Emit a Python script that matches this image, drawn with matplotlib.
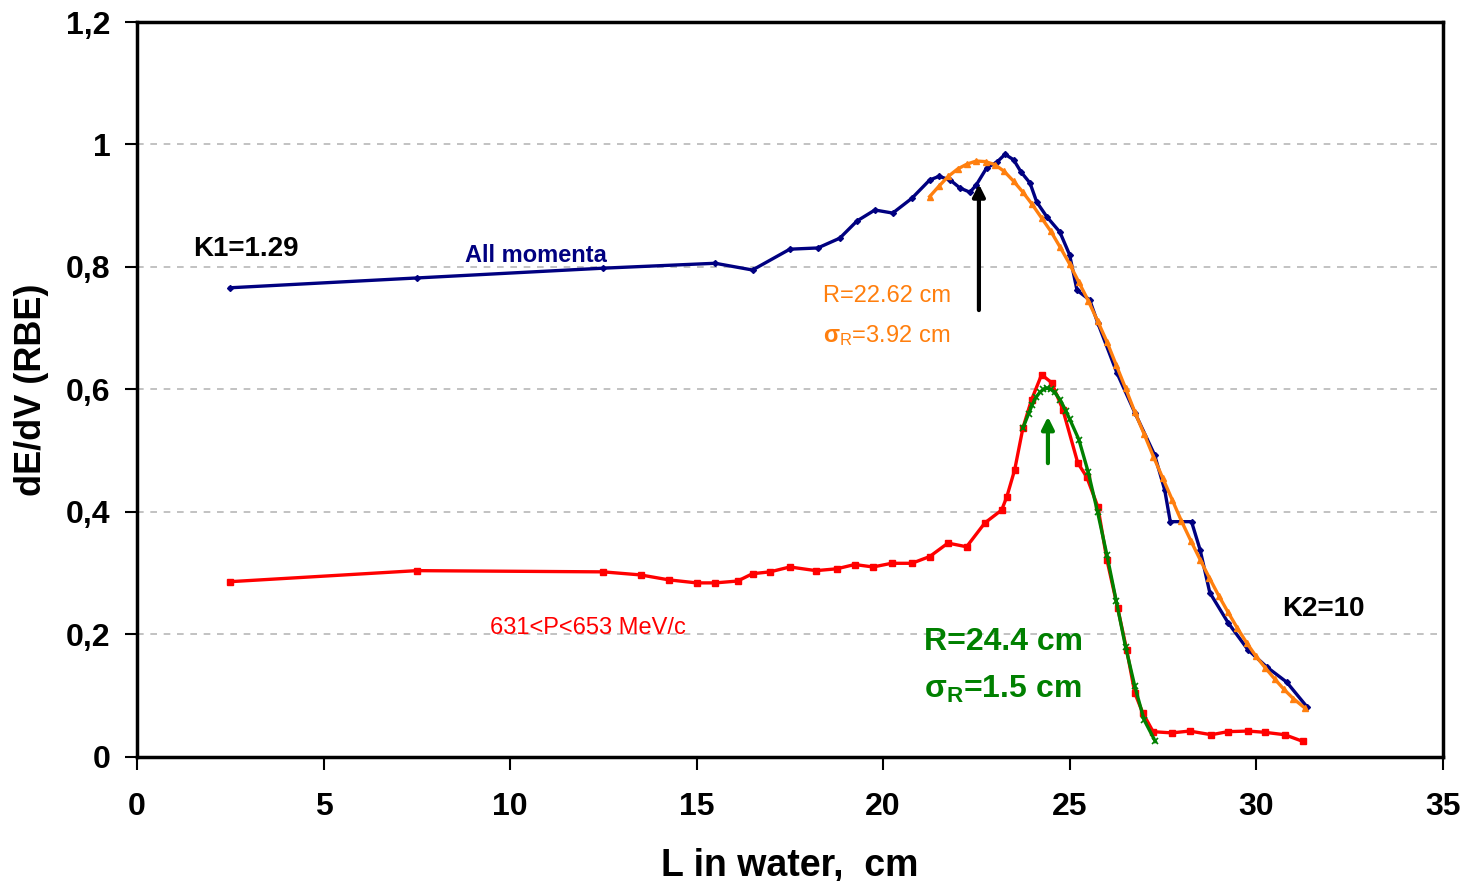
import matplotlib.pyplot as plt
from matplotlib.ticker import FuncFormatter

plt.rcParams['font.family'] = ['Liberation Sans', 'DejaVu Sans']
plt.rcParams['mathtext.fontset'] = 'custom'
plt.rcParams['mathtext.rm'] = 'Liberation Sans'
plt.rcParams['mathtext.bf'] = 'Liberation Sans:bold'
plt.rcParams['mathtext.it'] = 'Liberation Sans:italic'

# All momenta (blue)
x_all = [2.5, 7.5, 12.5, 15.5, 16.5, 17.5, 18.25, 18.84, 19.3, 19.78, 20.26, 20.77,
         21.25, 21.5, 21.8, 22.06, 22.33, 22.5, 22.78, 23.05, 23.27, 23.5, 23.7, 23.94,
         24.12, 24.39, 24.74, 25.0, 25.2, 25.54, 25.76, 26.27, 26.75, 27.28, 27.55,
         27.7, 28.27, 28.5, 28.76, 29.25, 29.78, 30.28, 30.82, 31.36]
y_all = [0.766, 0.782, 0.798, 0.806, 0.795, 0.829, 0.831, 0.847, 0.875, 0.893, 0.888, 0.912,
         0.942, 0.948, 0.942, 0.929, 0.922, 0.934, 0.962, 0.971, 0.984, 0.975, 0.955, 0.937,
         0.906, 0.882, 0.857, 0.820, 0.762, 0.746, 0.708, 0.627, 0.562, 0.493, 0.436,
         0.384, 0.384, 0.338, 0.268, 0.219, 0.175, 0.147, 0.122, 0.082]

# fit to all momenta (orange)
x_fit1 = [21.25, 21.5, 21.75, 22.0, 22.25, 22.5, 22.75, 23.0, 23.25, 23.5, 23.75, 24.0,
          24.25, 24.5, 24.75, 25.0, 25.25, 25.5, 25.75, 26.0, 26.25, 26.5, 26.75, 27.0,
          27.25, 27.5, 27.75, 28.0, 28.25, 28.5, 28.75, 29.0, 29.25, 29.5, 29.75, 30.0,
          30.25, 30.5, 30.75, 31.0, 31.3]
y_fit1 = [0.915, 0.932, 0.948, 0.960, 0.968, 0.973, 0.972, 0.967, 0.956, 0.940, 0.922, 0.902,
          0.880, 0.858, 0.832, 0.805, 0.775, 0.745, 0.712, 0.678, 0.640, 0.602, 0.563, 0.527,
          0.490, 0.455, 0.420, 0.385, 0.353, 0.322, 0.292, 0.263, 0.236, 0.210, 0.186, 0.164,
          0.145, 0.127, 0.110, 0.095, 0.080]

# 631<P<653 MeV/c (red)
x_p = [2.5, 7.5, 12.5, 13.5, 14.25, 15.0, 15.5, 16.1, 16.5, 16.97, 17.5, 18.2, 18.76,
       19.24, 19.73, 20.23, 20.77, 21.25, 21.74, 22.24, 22.73, 23.18, 23.32, 23.53, 23.75,
       23.98, 24.25, 24.52, 24.82, 25.22, 25.46, 25.76, 26.0, 26.29, 26.53, 26.75, 26.96,
       27.24, 27.74, 28.22, 28.8, 29.24, 29.78, 30.23, 30.77, 31.26]
y_p = [0.286, 0.304, 0.302, 0.297, 0.289, 0.284, 0.284, 0.287, 0.299, 0.302, 0.310, 0.304, 0.307,
       0.314, 0.310, 0.316, 0.316, 0.327, 0.349, 0.343, 0.382, 0.403, 0.425, 0.469, 0.537,
       0.583, 0.624, 0.611, 0.567, 0.480, 0.457, 0.408, 0.322, 0.243, 0.175, 0.104, 0.072,
       0.041, 0.039, 0.042, 0.036, 0.041, 0.042, 0.040, 0.036, 0.025]

# fit to momentum bin (green)
x_fit2 = [23.75, 23.9, 24.0, 24.1, 24.2, 24.3, 24.4, 24.5, 24.6, 24.75, 24.9, 25.0, 25.25,
          25.5, 25.75, 26.0, 26.25, 26.5, 26.75, 27.0, 27.3]
y_fit2 = [0.537, 0.560, 0.575, 0.587, 0.595, 0.600, 0.602, 0.600, 0.595, 0.583, 0.565, 0.552,
          0.518, 0.465, 0.400, 0.330, 0.255, 0.180, 0.115, 0.060, 0.025]

x_ticks = [0, 5, 10, 15, 20, 25, 30, 35]
y_ticks = [0, 0.2, 0.4, 0.6, 0.8, 1.0, 1.2]

navy = '#000080'
orange = '#ff7f0e'
red = '#ff0000'
green = '#008000'

fig = plt.figure(figsize=(14.69, 8.81), dpi=100)
ax = fig.add_axes([0.0933, 0.141, 0.8887, 0.834])

ax.plot(x_all, y_all, color=navy, lw=2.4, marker='D', ms=3)
ax.plot(x_fit1, y_fit1, color=orange, lw=2.4, marker='^', ms=5)
ax.plot(x_p, y_p, color=red, lw=2.4, marker='s', ms=4)
ax.plot(x_fit2, y_fit2, color=green, lw=2.4, marker='x', ms=4, mew=1.2)

# arrows marking the ranges
ax.annotate('', xy=(22.57, 0.94), xytext=(22.57, 0.725),
            arrowprops=dict(arrowstyle='-|>', color='black', lw=3, mutation_scale=18))
ax.annotate('', xy=(24.42, 0.56), xytext=(24.42, 0.475),
            arrowprops=dict(arrowstyle='-|>', color=green, lw=3, mutation_scale=18))

ax.text(1.5, 0.83, 'K1=1.29', fontsize=20, fontweight='bold', va='center')
ax.text(8.8, 0.818, 'All momenta', fontsize=17, fontweight='bold', color=navy, va='center')
ax.text(18.4, 0.752, 'R=22.62 cm', fontsize=17, color=orange, va='center')
ax.text(18.4, 0.688, r'$\mathbf{σ}_\mathregular{R}$=3.92 cm', fontsize=17, color=orange, va='center')
ax.text(9.45, 0.211, '631<P<653 MeV/c', fontsize=17, color=red, va='center')
ax.text(21.1, 0.188, 'R=24.4 cm', fontsize=23, fontweight='bold', color=green, va='center')
ax.text(21.1, 0.11, r'$\mathbf{σ_R}$=1.5 cm', fontsize=23, fontweight='bold', color=green, va='center')
ax.text(30.7, 0.242, 'K2=10', fontsize=20, fontweight='bold', va='center')

ax.set_xlim(0, 35)
ax.set_ylim(0, 1.2)
ax.set_xticks(x_ticks)
ax.set_yticks(y_ticks)
ax.yaxis.set_major_formatter(FuncFormatter(lambda v, p: ('%g' % round(v, 1)).replace('.', ',')))
ax.tick_params(direction='out', length=9, width=1.5, labelsize=23)
ax.tick_params(axis='x', pad=16)
ax.tick_params(axis='y', pad=10)
for lab in ax.get_xticklabels() + ax.get_yticklabels():
    lab.set_fontweight('bold')

for yv in y_ticks[1:-1]:
    ax.axhline(yv, color='#b8b8b8', lw=1.2, ls=(0, (4, 4)), zorder=0)

for s in ax.spines.values():
    s.set_linewidth(2.5)

ax.set_xlabel('L in water,  cm', fontsize=27, fontweight='bold', labelpad=19)
ax.set_ylabel('dE/dV (RBE)', fontsize=26, fontweight='bold', labelpad=12)

fig.savefig('out.png', dpi=100)
